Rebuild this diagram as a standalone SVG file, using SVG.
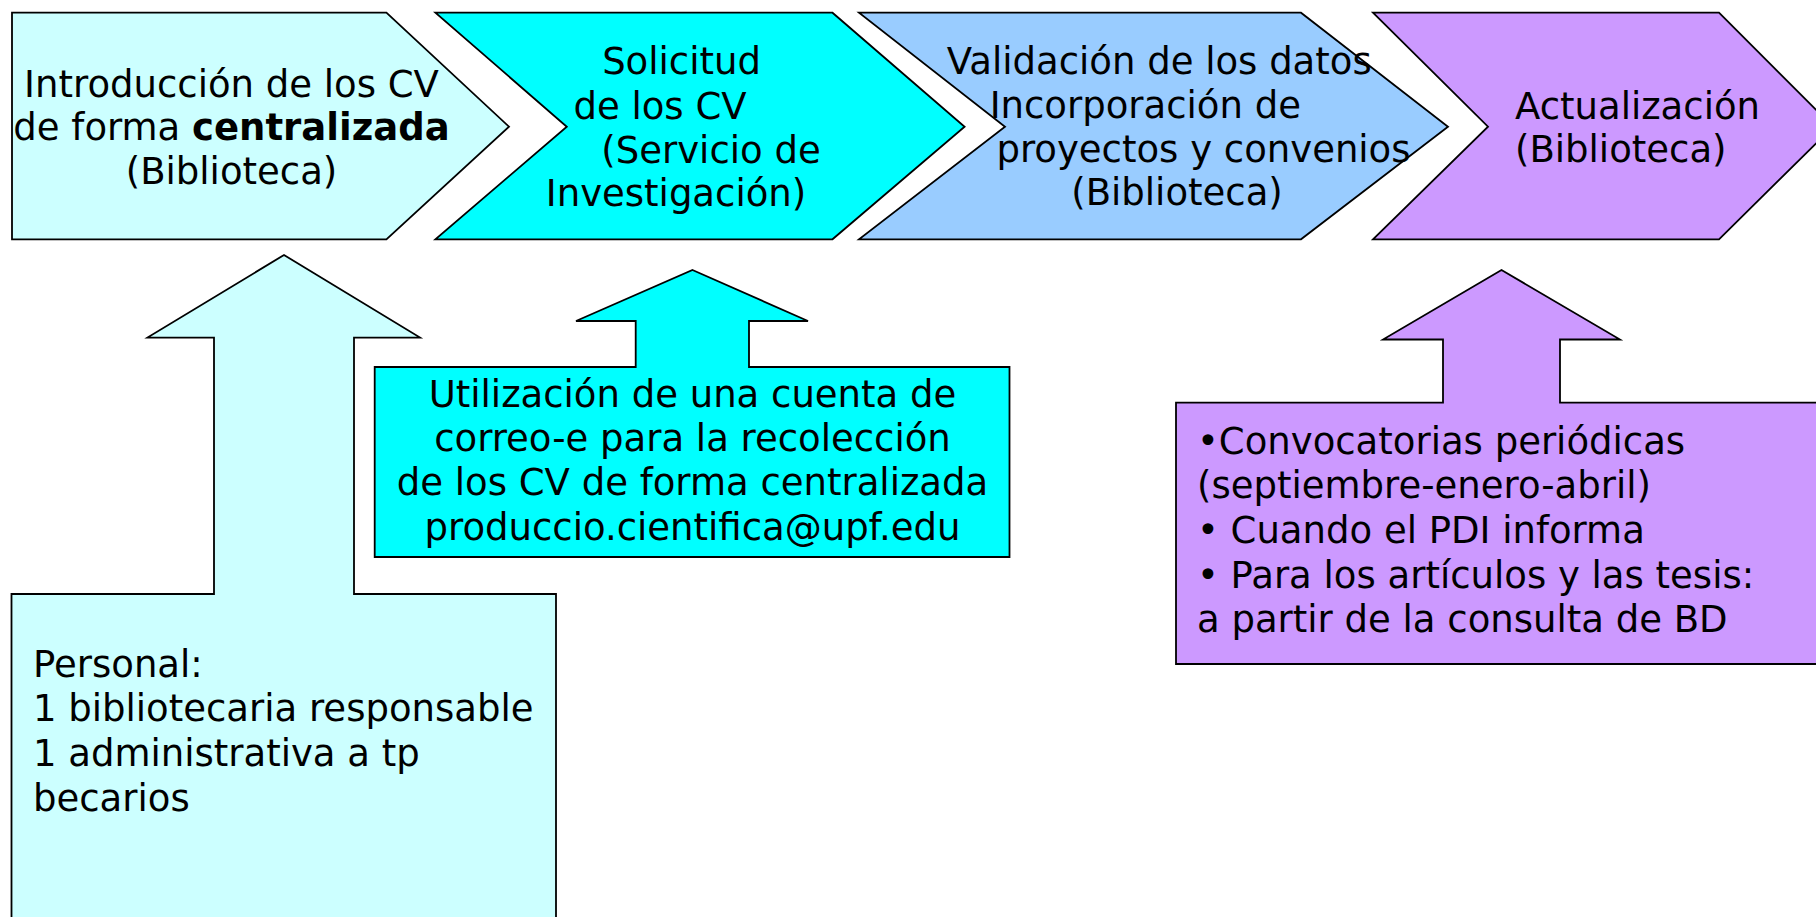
<svg xmlns="http://www.w3.org/2000/svg" width="1816" height="917" viewBox="0 0 1816 917">
<style>
.sh{stroke:#000;stroke-width:1.8;stroke-linejoin:miter}
.t{font-family:"DejaVu Sans","Liberation Sans",sans-serif;font-size:37px;fill:#000}
.m{text-anchor:middle}
.b{font-weight:bold}
.c1{fill:#CCFFFF}.c2{fill:#00FFFF}.c3{fill:#99CCFF}.c4{fill:#CC99FF}
</style>
<rect width="1816" height="917" fill="#fff"/>
<g id="connectors"/>
<g id="step1">
<polygon class="sh c1" points="12,12.7 386.4,12.7 509,126.7 386.4,239.3 12,239.3"/>
<text class="t m" x="231.5" y="96.5">Introducción de los CV</text>
<text class="t m" x="231.5" y="140">de forma <tspan class="b">centralizada</tspan></text>
<text class="t m" x="231.5" y="183.5">(Biblioteca)</text>
</g>
<g id="step2">
<polygon class="sh c2" points="435.4,12.7 832.5,12.7 964.6,126.7 832.5,239.3 435.4,239.3 566.8,126.7"/>
<text class="t m" x="681.5" y="74">Solicitud</text>
<text class="t m" x="660" y="118.5">de los CV</text>
<text class="t m" x="711" y="163">(Servicio de</text>
<text class="t m" x="676" y="206">Investigación)</text>
</g>
<g id="step3">
<polygon class="sh c3" points="859,12.7 1301,12.7 1448,126.7 1301,239.3 859,239.3 1005,126.7"/>
<text class="t m" x="1159.3" y="73.5">Validación de los datos</text>
<text class="t m" x="1145.3" y="118">Incorporación de</text>
<text class="t m" x="1203.5" y="162">proyectos y convenios</text>
<text class="t m" x="1177" y="205">(Biblioteca)</text>
</g>
<g id="step4">
<polygon class="sh c4" points="1373,12.7 1719,12.7 1833,126.7 1719,239.3 1373,239.3 1488,126.7"/>
<text class="t" x="1515" y="118.5">Actualización</text>
<text class="t" x="1515" y="162">(Biblioteca)</text>
</g>
<g id="personal">
<polygon class="sh c1" points="284,255 420,337.6 354,337.6 354,594 556,594 556,930 11.5,930 11.5,594 214,594 214,337.6 147.5,337.6"/>
<text class="t" x="33" y="677">Personal:</text>
<text class="t" x="33" y="721">1 bibliotecaria responsable</text>
<text class="t" x="33" y="766">1 administrativa a tp</text>
<text class="t" x="33" y="811">becarios</text>
</g>
<g id="correo">
<polygon class="sh c2" points="692.5,270 808,321 749,321 749,367 1009.5,367 1009.5,557 374.7,557 374.7,367 635.7,367 635.7,321 576,321"/>
<text class="t m" x="692.5" y="407">Utilización de una cuenta de</text>
<text class="t m" x="692.5" y="451">correo-e para la recolección</text>
<text class="t m" x="692.5" y="495">de los CV de forma centralizada</text>
<text class="t m" x="692.5" y="540">produccio.cientifica@upf.edu</text>
</g>
<g id="actualizacion-detalle">
<polygon class="sh c4" points="1501.5,270 1620,339.5 1560,339.5 1560,402.7 1830,402.7 1830,664 1176,664 1176,402.7 1443,402.7 1443,339.5 1383,339.5"/>
<text class="t" x="1197" y="454">•Convocatorias periódicas</text>
<text class="t" x="1197" y="498">(septiembre-enero-abril)</text>
<text class="t" x="1197" y="543">• Cuando el PDI informa</text>
<text class="t" x="1197" y="588">• Para los artículos y las tesis:</text>
<text class="t" x="1197" y="632">a partir de la consulta de BD</text>
</g>
</svg>
